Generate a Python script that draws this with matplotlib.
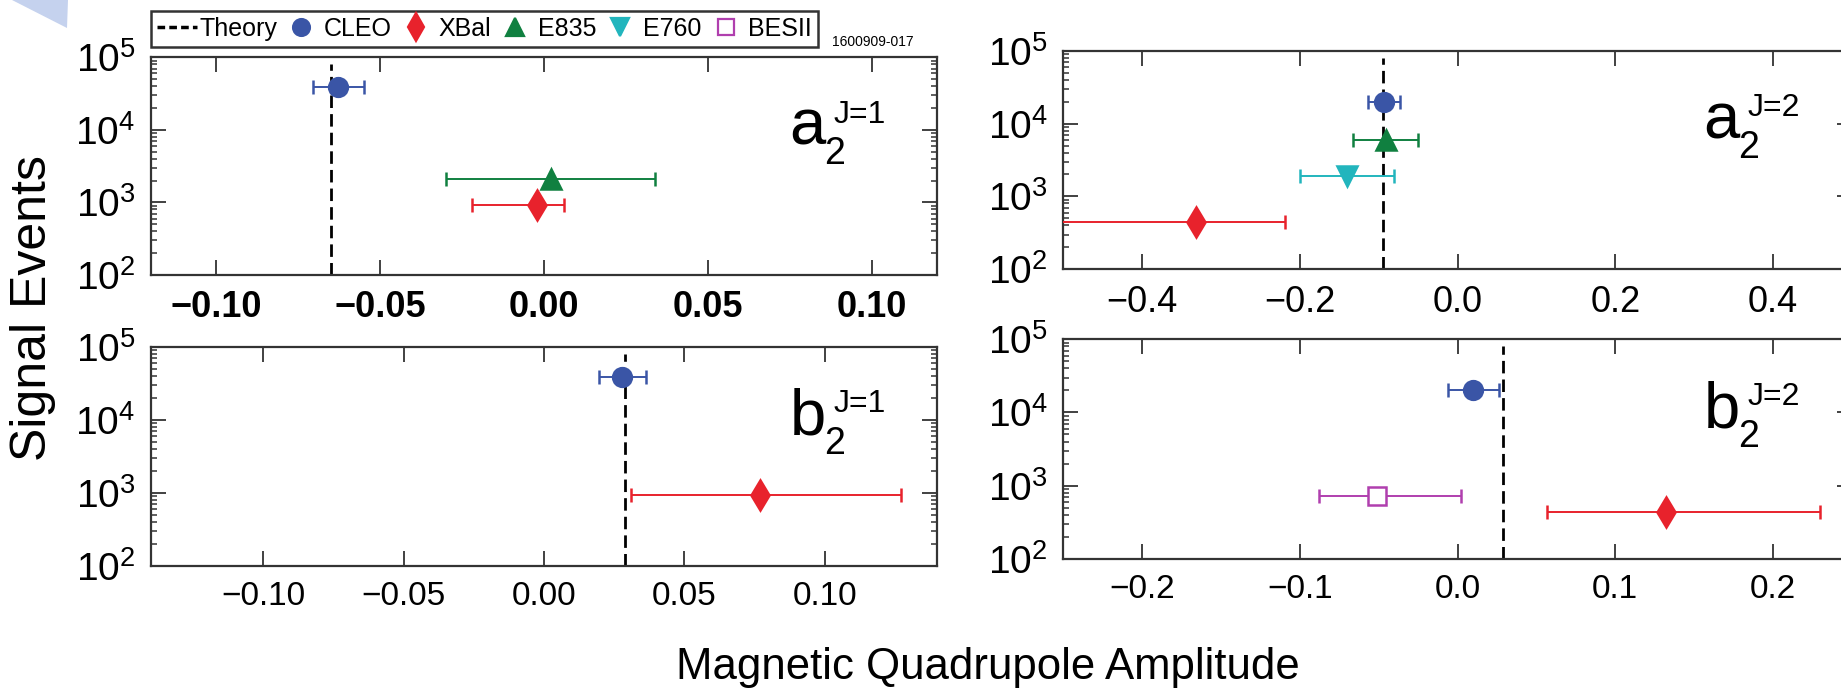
import math
import matplotlib
matplotlib.use("Agg")
import matplotlib.pyplot as plt
from matplotlib import font_manager
from matplotlib.lines import Line2D
from matplotlib.patches import Polygon
from matplotlib.ticker import LogLocator, NullFormatter

# ---- data: amplitude, asymmetric x errors, signal events ----
# a2 (J=1)
a1_exps = ["CLEO", "E835", "XBal"]
a1_amp = [-0.063, 0.002, -0.002]
a1_err_lo = [0.0075, 0.032, 0.020]
a1_err_hi = [0.0080, 0.032, 0.008]
a1_events = [3.9e4, 2.1e3, 930]
a1_theory = -0.065

# b2 (J=1)
b1_exps = ["CLEO", "XBal"]
b1_amp = [0.0279, 0.077]
b1_err_lo = [0.0083, 0.046]
b1_err_hi = [0.0083, 0.050]
b1_events = [3.9e4, 930]
b1_theory = 0.029

# a2 (J=2)
a2_exps = ["CLEO", "E835", "E760", "XBal"]
a2_amp = [-0.093, -0.091, -0.140, -0.332]
a2_err_lo = [0.020, 0.041, 0.060, 0.200]
a2_err_hi = [0.020, 0.041, 0.060, 0.114]
a2_events = [2.0e4, 6.0e3, 1.9e3, 440]
a2_theory = -0.095

# b2 (J=2)
b2_exps = ["CLEO", "BESII", "XBal"]
b2_amp = [0.010, -0.051, 0.132]
b2_err_lo = [0.016, 0.037, 0.075]
b2_err_hi = [0.016, 0.053, 0.098]
b2_events = [2.0e4, 730, 440]
b2_theory = 0.029

legend_order = ["CLEO", "XBal", "E835", "E760", "BESII"]
y_ticks = [1e2, 1e3, 1e4, 1e5]
theory_span = (1e2, 8e4)

styles = {
    "CLEO": dict(color="#3a55a6", marker="o", ms=13.5, fill=True),
    "XBal": dict(color="#e8222c", marker="d", ms=15.5, fill=True),
    "E835": dict(color="#108040", marker="^", ms=14, fill=True),
    "E760": dict(color="#22b5bd", marker="v", ms=14, fill=True),
    "BESII": dict(color="#b03fae", marker="s", ms=13.5, fill=False),
}

names = {f.name for f in font_manager.fontManager.ttflist}
narrow = "Liberation Sans Narrow" if "Liberation Sans Narrow" in names else "Liberation Sans"
plt.rcParams["font.family"] = ["Liberation Sans", "DejaVu Sans"]
plt.rcParams["mathtext.fontset"] = "custom"
plt.rcParams["mathtext.rm"] = "Liberation Sans"

W, H = 1841, 688
fig = plt.figure(figsize=(W / 100, H / 100), dpi=100)


def px_rect(left, top, right, bottom):
    return [left / W, 1 - bottom / H, (right - left) / W, (bottom - top) / H]


def fmt_tick(v, nd):
    s = f"{v:.{nd}f}"
    return s.replace("-", "\u2212")


def draw_panel(rect, exps, amp, lo, hi, events, theory, xlim, xticks, nd,
               letter, jval, xsize=25, bold_x=False):
    ax = fig.add_axes(rect)
    ax.set_yscale("log")
    ax.set_ylim(y_ticks[0], y_ticks[-1])
    ax.set_xlim(*xlim)
    ax.set_xticks(xticks)
    ax.set_xticklabels([fmt_tick(t, nd) for t in xticks], fontsize=xsize,
                       fontweight="bold" if bold_x else "normal")
    ax.set_yticks(y_ticks)
    ax.set_yticklabels([r"$\mathregular{10^{%d}}$" % round(math.log10(t))
                        for t in y_ticks], fontsize=28)
    ax.yaxis.set_minor_locator(LogLocator(base=10, subs=range(2, 10), numticks=20))
    ax.yaxis.set_minor_formatter(NullFormatter())

    ax.vlines(theory, *theory_span, colors="black", linewidth=2,
              linestyles=(0, (4.5, 2.2)), zorder=2)

    for name, x, l, h, n in zip(exps, amp, lo, hi, events):
        st = styles[name]
        ax.errorbar(x, n, xerr=[[l], [h]], fmt=st["marker"], ms=st["ms"],
                    color=st["color"], mec=st["color"],
                    mfc=st["color"] if st["fill"] else "white",
                    mew=1.8, elinewidth=1.4, capsize=5, capthick=1.4, zorder=3)

    ax.tick_params(which="major", direction="in", length=11, width=1.3,
                   top=True, right=True, pad=11, color="#333333")
    ax.tick_params(which="minor", direction="in", length=4.5, width=1.1,
                   top=False, left=True, right=True, color="#333333")
    for sp in ax.spines.values():
        sp.set_linewidth(1.6)
        sp.set_color("#333333")

    # panel tag, e.g. a_2^{J=1}, built from three pieces for size control
    ax.text(0.812, 0.60, letter, transform=ax.transAxes, fontsize=47,
            va="baseline", ha="left")
    ax.text(0.856, 0.51, "2", transform=ax.transAxes, fontsize=27,
            va="baseline", ha="left")
    ax.text(0.868, 0.70, f"J={jval}", transform=ax.transAxes, fontsize=23,
            va="baseline", ha="left")
    return ax


draw_panel(px_rect(150.7, 57.3, 937.3, 275), a1_exps, a1_amp, a1_err_lo, a1_err_hi,
           a1_events, a1_theory, (-0.12, 0.12), [-0.10, -0.05, 0.0, 0.05, 0.10], 2,
           "a", 1, xsize=26, bold_x=True)
draw_panel(px_rect(150.7, 346.7, 937.3, 566), b1_exps, b1_amp, b1_err_lo, b1_err_hi,
           b1_events, b1_theory, (-0.14, 0.14), [-0.10, -0.05, 0.0, 0.05, 0.10], 2,
           "b", 1, xsize=24)
draw_panel(px_rect(1063, 50.7, 1852, 269.3), a2_exps, a2_amp, a2_err_lo, a2_err_hi,
           a2_events, a2_theory, (-0.5, 0.5), [-0.4, -0.2, 0.0, 0.2, 0.4], 1,
           "a", 2, xsize=26)
draw_panel(px_rect(1063, 339.3, 1852, 558.7), b2_exps, b2_amp, b2_err_lo, b2_err_hi,
           b2_events, b2_theory, (-0.25, 0.25), [-0.2, -0.1, 0.0, 0.1, 0.2], 1,
           "b", 2, xsize=24)

# legend strip across the top of the left column
handles = [Line2D([], [], color="black", linewidth=2.5, linestyle=(0, (2.2, 1.2)))]
labels = ["Theory"]
for name in legend_order:
    st = styles[name]
    handles.append(Line2D([], [], linestyle="none", marker=st["marker"],
                          ms=st["ms"] * 0.9, color=st["color"], mec=st["color"],
                          mew=1.6, mfc=st["color"] if st["fill"] else "white"))
    labels.append(name)
leg = fig.legend(handles, labels, loc="lower left", ncol=6, mode="expand",
                 bbox_to_anchor=(150.7 / W, 1 - 47 / H, (818 - 150.7) / W, 38 / H),
                 borderaxespad=0, frameon=True, fancybox=False,
                 handlelength=1.6, handletextpad=0.1, columnspacing=0.6,
                 borderpad=0.25, prop={"family": narrow, "size": 18})
leg.get_frame().set_edgecolor("black")
leg.get_frame().set_linewidth(1.8)

fig.text(832 / W, 1 - 46 / H, "1600909-017", fontsize=10, family=narrow,
         va="baseline", ha="left")

fig.text(33 / W, 1 - 308 / H, "Signal Events", rotation=90, fontsize=36,
         ha="center", va="center")
fig.text(988 / W, 1 - 679 / H, "Magnetic Quadrupole Amplitude", fontsize=31.5,
         ha="center", va="baseline")

# pale slide decoration in the corner
fig.patches.append(Polygon([(12 / W, 1.0), (68 / W, 1.0), (67 / W, 1 - 28 / H)],
                           closed=True, transform=fig.transFigure,
                           facecolor="#c5d2ee", edgecolor="none"))

fig.savefig("out.png", dpi=100, facecolor="white")
